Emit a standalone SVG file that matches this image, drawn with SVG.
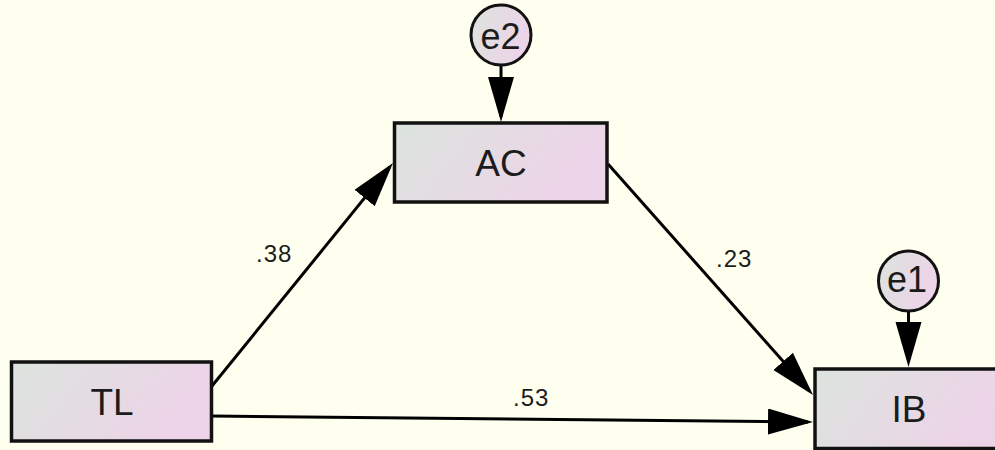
<svg xmlns="http://www.w3.org/2000/svg" width="995" height="450" viewBox="0 0 995 450">
  <defs>
    <linearGradient id="fillGrad" x1="0" y1="0" x2="1" y2="0.3">
      <stop offset="0" stop-color="#dce4de"/>
      <stop offset="1" stop-color="#edd3e8"/>
    </linearGradient>
    <marker id="head" markerUnits="userSpaceOnUse" markerWidth="46" markerHeight="28" viewBox="0 0 46 28" refX="40" refY="13" orient="auto">
      <path d="M0,0 L45,13 L0,26 Z" fill="#000"/>
    </marker>
    <style>
      .box { fill: url(#fillGrad); stroke: #111; stroke-width: 3.5; }
      .err { fill: url(#fillGrad); stroke: #111; stroke-width: 3; }
      .name { font-family: "Liberation Sans", Arial, sans-serif; font-size: 37px; fill: #1c1c1c; text-anchor: middle; }
      .ename { font-family: "Liberation Sans", Arial, sans-serif; font-size: 36px; fill: #1c1c1c; text-anchor: middle; }
      .coef { font-family: "Liberation Sans", Arial, sans-serif; font-size: 24px; letter-spacing: 1px; fill: #1c1c1c; }
      .path { stroke: #000; stroke-width: 3; fill: none; marker-end: url(#head); }
    </style>
  </defs>

  <rect x="0" y="0" width="995" height="450" fill="#fffff0"/>

  <!-- regression paths and error terms -->
  <g id="connectors">
    <line class="path" x1="212" y1="386" x2="389.8" y2="166.9"/>
    <line class="path" x1="608" y1="164" x2="809.7" y2="391.3"/>
    <line class="path" x1="212" y1="416" x2="808" y2="421.9"/>
    <line class="path" x1="501" y1="65" x2="501" y2="117"/>
    <line class="path" x1="908.5" y1="311" x2="908.5" y2="362"/>
    <text class="coef" x="256" y="262">.38</text>
    <text class="coef" x="716" y="267">.23</text>
    <text class="coef" x="513" y="406">.53</text>
  </g>

  <g id="TL">
    <rect class="box" x="11.5" y="362" width="200" height="79"/>
    <text class="name" x="112" y="415">TL</text>
  </g>

  <g id="AC">
    <rect class="box" x="394.5" y="123" width="212.5" height="79"/>
    <text class="name" x="501" y="176">AC</text>
  </g>

  <g id="IB">
    <rect class="box" x="815" y="369" width="190" height="79.5"/>
    <text class="name" x="909" y="422">IB</text>
  </g>

  <g id="e2">
    <circle class="err" cx="501" cy="35" r="30"/>
    <text class="ename" x="500.5" y="49">e2</text>
  </g>

  <g id="e1">
    <circle class="err" cx="908.5" cy="281" r="30"/>
    <text class="ename" x="907" y="292">e1</text>
  </g>
</svg>
